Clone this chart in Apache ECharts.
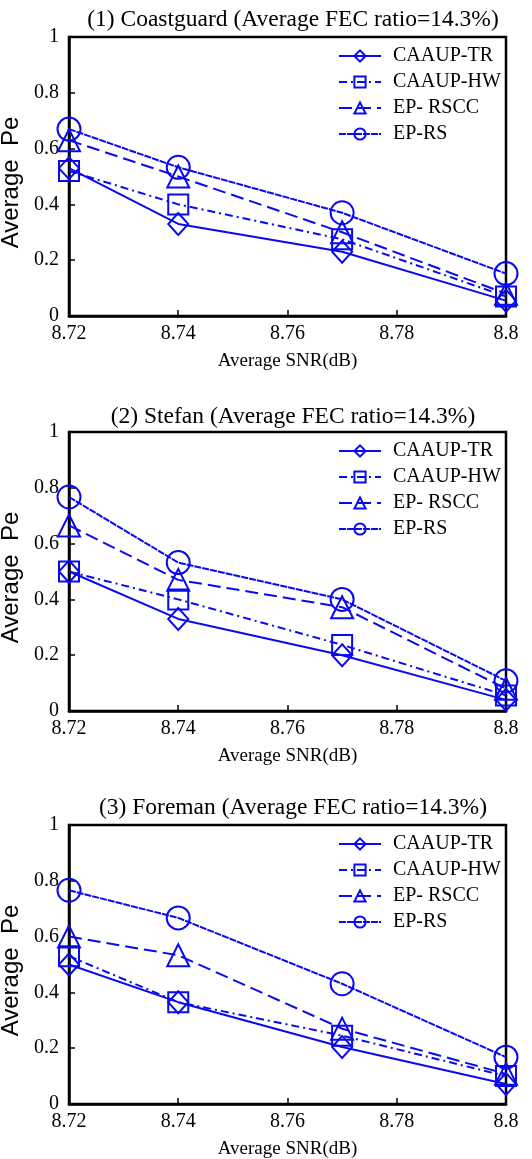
<!DOCTYPE html>
<html>
<head>
<meta charset="utf-8">
<script src="https://cdn.jsdelivr.net/npm/echarts@6/dist/echarts.min.js"></script>
<style>html,body{margin:0;padding:0;background:#fff}#c{width:532px;height:1159px}</style>
</head>
<body>
<div id="c"></div>
<script>
const snr = [8.72, 8.74, 8.77, 8.8];
const seriesNames = ['CAAUP-TR', 'CAAUP-HW', 'EP- RSCC', 'EP-RS'];
const titles = [
  '(1) Coastguard (Average FEC ratio=14.3%)',
  '(2) Stefan (Average FEC ratio=14.3%)',
  '(3) Foreman (Average FEC ratio=14.3%)'
];
const xTicks = ['8.72', '8.74', '8.76', '8.78', '8.8'];
const yTicks = ['0', '0.2', '0.4', '0.6', '0.8', '1'];

const coastTR = [0.53, 0.33, 0.23, 0.055];
const coastHW = [0.52, 0.40, 0.275, 0.07];
const coastRSCC = [0.63, 0.50, 0.30, 0.08];
const coastRS = [0.67, 0.533, 0.37, 0.152];

const stefanTR = [0.50, 0.33, 0.20, 0.04];
const stefanHW = [0.50, 0.40, 0.237, 0.056];
const stefanRSCC = [0.665, 0.47, 0.372, 0.08];
const stefanRS = [0.767, 0.532, 0.40, 0.108];

const foremanTR = [0.50, 0.365, 0.204, 0.072];
const foremanHW = [0.53, 0.365, 0.245, 0.10];
const foremanRSCC = [0.60, 0.533, 0.27, 0.108];
const foremanRS = [0.766, 0.667, 0.431, 0.168];

const panels = [
  [coastTR, coastHW, coastRSCC, coastRS],
  [stefanTR, stefanHW, stefanRSCC, stefanRS],
  [foremanTR, foremanHW, foremanRSCC, foremanRS]
];

const BLUE = '#0a0af0';
const SERIF = 'Liberation Serif';
const styles = [
  {symbol: 'diamond', size: [20, 22], dash: 'solid'},
  {symbol: 'rect', size: 20, dash: [8, 4, 2, 4]},
  {symbol: 'triangle', size: 22, dash: [13, 6]},
  {symbol: 'circle', size: 23, dash: [7, 1]}
];

const gridTops = [37, 432, 825];
const titleTops = [8, 405, 796];
const legendTops = [46, 441, 834];

const option = {
  animation: false,
  backgroundColor: '#fff',
  title: [], legend: [], grid: [], xAxis: [], yAxis: [], series: []
};

gridTops.forEach((top, i) => {
  option.title.push({
    text: titles[i], left: 293, top: titleTops[i], textAlign: 'center', padding: 0,
    textStyle: {fontFamily: SERIF, fontSize: 23.5, fontWeight: 'normal', color: '#000'}
  });
  option.grid.push({
    left: 69, width: 437, top: top, height: 279,
    containLabel: false, outerBoundsMode: 'none',
    show: true, borderColor: '#000', borderWidth: 2.5, backgroundColor: 'transparent'
  });
  option.legend.push({
    data: seriesNames, orient: 'vertical', left: 338, top: legendTops[i],
    itemWidth: 42, itemHeight: 14, itemGap: 6, padding: 0,
    inactiveColor: BLUE, selectedMode: false,
    textStyle: {fontFamily: SERIF, fontSize: 20, color: '#000', lineHeight: 20, padding: [0, 0, 0, 7]}
  });
  option.xAxis.push({
    type: 'value', gridIndex: i, min: 8.72, max: 8.8, interval: 0.02,
    name: 'Average SNR(dB)', nameLocation: 'middle', nameGap: 36,
    nameTextStyle: {fontFamily: SERIF, fontSize: 19, color: '#000'},
    axisLine: {lineStyle: {color: '#000', width: 2.5}},
    axisTick: {inside: true, length: 6, lineStyle: {color: '#000', width: 1.5}},
    axisLabel: {
      fontFamily: SERIF, fontSize: 20, color: '#000', margin: 8,
      formatter: v => xTicks[Math.round((v - 8.72) / 0.02)]
    },
    splitLine: {show: false}
  });
  option.yAxis.push({
    type: 'value', gridIndex: i, min: 0, max: 1, interval: 0.2,
    name: 'Average  Pe', nameLocation: 'middle', nameGap: 40, nameRotate: 90,
    nameTextStyle: {fontFamily: 'Liberation Sans', fontSize: 24, color: '#000', padding: [0, 12, 0, 0]},
    axisLine: {lineStyle: {color: '#000', width: 2.5}},
    axisTick: {inside: true, length: 6, lineStyle: {color: '#000', width: 1.5}},
    axisLabel: {
      fontFamily: SERIF, fontSize: 20, color: '#000', margin: 10,
      formatter: v => yTicks[Math.round(v / 0.2)]
    },
    splitLine: {show: false}
  });
  panels[i].forEach((vals, k) => {
    const st = styles[k];
    option.series.push({
      type: 'line', name: seriesNames[k], xAxisIndex: i, yAxisIndex: i,
      data: snr.map((x, j) => [x, vals[j]]),
      symbol: st.symbol, symbolSize: st.size, clip: false,
      lineStyle: {color: BLUE, width: 2, type: st.dash},
      itemStyle: {color: 'rgba(255,255,255,0)', borderColor: BLUE, borderWidth: 2},
      z: 3
    });
  });
});

const chart = echarts.init(document.getElementById('c'), null, {renderer: 'canvas'});
chart.setOption(option);
</script>
</body>
</html>
